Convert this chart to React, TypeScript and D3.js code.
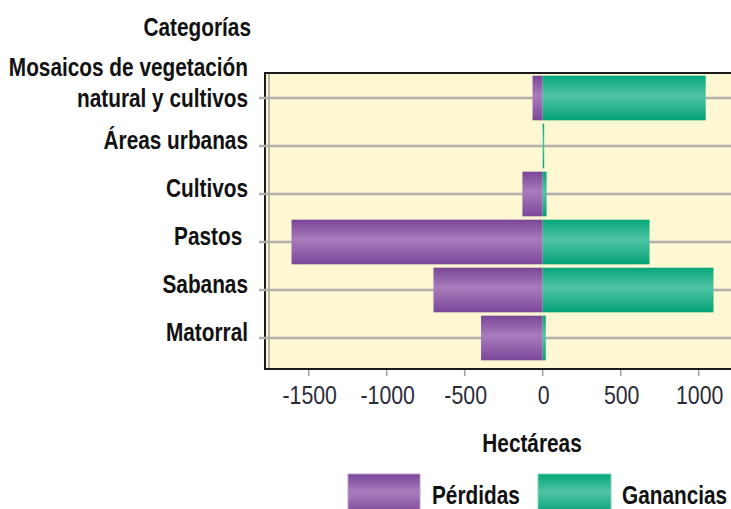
import React from 'react';
import * as d3 from 'd3';

const categories = ['Mosaicos', 'Areas', 'Cultivos', 'Pastos', 'Sabanas', 'Matorral'];
const categoryLabels = [
  ['Mosaicos de vegetación', 'natural y cultivos'],
  ['Áreas urbanas'],
  ['Cultivos'],
  ['Pastos '],
  ['Sabanas'],
  ['Matorral'],
];
const losses = [-65, 0, -130, -1610, -700, -395];
const gains = [1045, 8, 25, 685, 1095, 20];
const xTicks = [-1500, -1000, -500, 0, 500, 1000];

const W = 731;
const H = 509;
const FONT = '"Liberation Sans", Arial, sans-serif';

const frame = { left: 265, top: 73, bottom: 369 };

// no narrow font installed, so squeeze the regular one horizontally
const NarrowText: React.FC<{
  x: number; y: number; anchor?: 'start' | 'middle' | 'end'; bold?: boolean;
  size?: number; sx?: number; fill?: string; children: React.ReactNode;
}> = ({ x, y, anchor = 'start', bold = true, size = 26, sx = 0.8, fill = '#111', children }) => (
  <text transform={`translate(${x},${y}) scale(${sx},1)`} textAnchor={anchor} fontFamily={FONT}
    fontWeight={bold ? 'bold' : 'normal'} fontSize={size} fill={fill} style={{ whiteSpace: 'pre' }}>
    {children}
  </text>
);

const App: React.FC = () => {
  const x = d3.scaleLinear().domain([-1780, 1220]).range([frame.left, 733]);
  const y = d3.scalePoint<string>().domain(categories).range([98, 338]);
  const barH = y.step() * 0.93;

  return (
    <svg width={W} height={H} style={{ position: 'absolute', left: 0, top: 0, background: '#fff' }}>
      <defs>
        <linearGradient id="purple" x1="0" y1="0" x2="0" y2="1">
          <stop offset="0%" stopColor="#7a4698" />
          <stop offset="45%" stopColor="#a97cbb" />
          <stop offset="100%" stopColor="#7b4799" />
        </linearGradient>
        <linearGradient id="green" x1="0" y1="0" x2="0" y2="1">
          <stop offset="0%" stopColor="#06a67a" />
          <stop offset="45%" stopColor="#4fc4a5" />
          <stop offset="100%" stopColor="#05a277" />
        </linearGradient>
      </defs>

      {/* plot frame */}
      <rect x={frame.left} y={frame.top} width={W + 10 - frame.left} height={frame.bottom - frame.top}
        fill="#fdf8d2" stroke="#1a1a1a" strokeWidth={2} />
      <line x1={269} x2={269} y1={frame.top + 1} y2={frame.bottom - 1} stroke="#b9b6a8" strokeWidth={2} />

      {/* gridlines + left ticks */}
      {categories.map(c => (
        <line key={c} x1={259} x2={W} y1={y(c)} y2={y(c)} stroke="#b1b0aa" strokeWidth={2.5} />
      ))}

      {/* bars */}
      {categories.map((c, i) => (
        <g key={c}>
          {losses[i] < 0 && (
            <rect x={x(losses[i])} y={y(c)! - barH / 2} width={x(0) - x(losses[i])} height={barH} fill="url(#purple)" />
          )}
          <rect x={x(0)} y={y(c)! - barH / 2} width={Math.max(1.5, x(gains[i]) - x(0))} height={barH} fill="url(#green)" />
        </g>
      ))}

      {/* x axis ticks */}
      {xTicks.map(t => (
        <g key={t}>
          <line x1={x(t)} x2={x(t)} y1={frame.bottom + 1} y2={frame.bottom + 7} stroke="#a0a0a0" strokeWidth={1.5} />
          <NarrowText x={x(t) + 1} y={404} anchor="middle" bold={false} sx={0.82} fill="#2b2b3a">
            {t}
          </NarrowText>
        </g>
      ))}

      {/* category labels */}
      <NarrowText x={251} y={36} anchor="end">Categorías</NarrowText>
      {categories.map((c, i) => {
        const lines = categoryLabels[i];
        const n = lines.length - 1;
        return lines.map((l, j) => (
          <NarrowText key={c + j} x={248} y={y(c)! + 3 + n * 6 - (n - j) * 31} anchor="end">
            {l}
          </NarrowText>
        ));
      })}

      {/* axis title */}
      <NarrowText x={532} y={452} anchor="middle">Hectáreas</NarrowText>

      {/* legend */}
      <rect x={348} y={474} width={72} height={40} fill="url(#purple)" stroke="#c09ccf" strokeWidth={1} />
      <NarrowText x={432} y={504}>Pérdidas</NarrowText>
      <rect x={538} y={474} width={73} height={40} fill="url(#green)" stroke="#7fd3bb" strokeWidth={1} />
      <NarrowText x={622} y={504}>Ganancias</NarrowText>
    </svg>
  );
};

export default App;
